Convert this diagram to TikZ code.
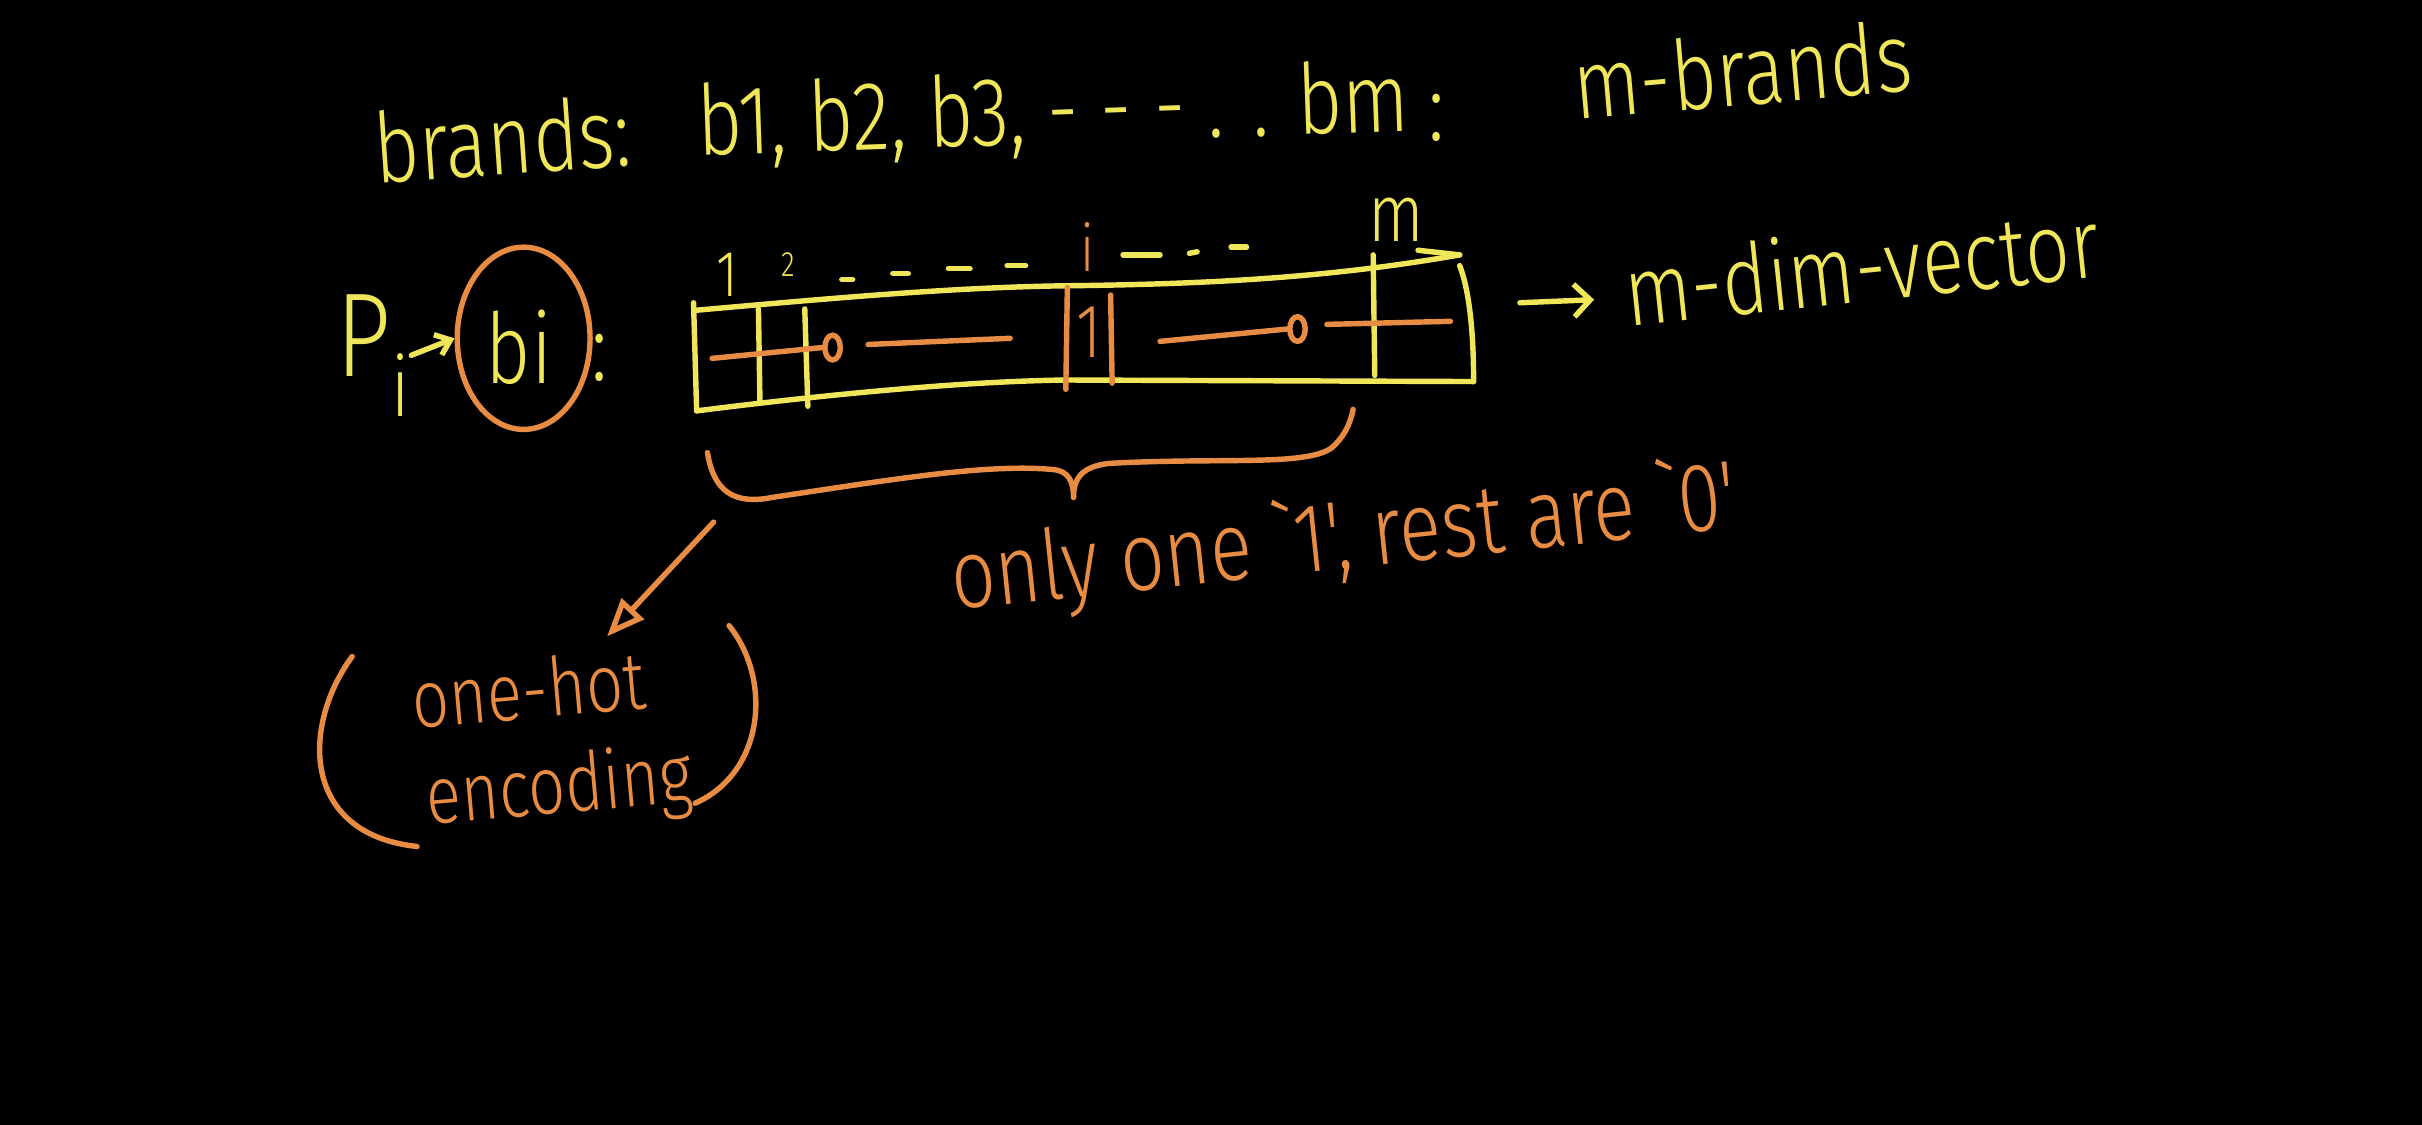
\documentclass[tikz,border=0pt]{standalone}
\usepackage{fontspec}
\newfontfamily\hand{Fira Sans Light}[FakeStretch=0.8]
\usetikzlibrary{arrows.meta,shapes.geometric}
\definecolor{hy}{RGB}{240,230,90}
\definecolor{ho}{RGB}{232,140,68}
\tikzset{
  ytxt/.style={text=hy, font=\hand\fontsize{36}{40}\selectfont, inner sep=0pt},
  otxt/.style={text=ho, font=\hand\fontsize{36}{40}\selectfont, inner sep=0pt},
  ypen/.style={draw=hy, line width=2pt, line cap=round, line join=round},
  open/.style={draw=ho, line width=2pt, line cap=round, line join=round},
  blob/.style={draw=ho, line width=2pt, ellipse, minimum width=0.2cm, minimum height=0.32cm, inner sep=0pt},
}
\begin{document}
\begin{tikzpicture}[x=0.02cm,y=-0.02cm]
\fill[black] (0,0) rectangle (1568,728);
\useasboundingbox (0,0) rectangle (1568,728);
% title
\node[ytxt, rotate=4] (brands) at (325,90) {brands:};
\node[ytxt, rotate=2] (list) at (682,74) {b1, b2, b3, - - - . . bm};
\node[ytxt] (colon) at (930,76) {:};
\node[ytxt, rotate=5] (mb) at (1128,45) {m-brands};
% P_i -> bi
\node[ytxt, font=\hand\fontsize{44}{48}\selectfont] (p) at (242,230) {P\textsubscript{i}};
\node[ytxt] (bi) at (336,225) {bi};
\node[draw=ho, line width=2pt, ellipse, minimum width=1.72cm, minimum height=2.36cm] (ring) at (339,219) {};
\draw[ypen, -{Straight Barb[length=5pt,width=8pt]}] (p.east) -- (ring.west);
\node[ytxt] (pc) at (388,232) {:};
% vector box
\draw[ypen] (449,201) .. controls (550,192) and (620,186) .. (690,185) .. controls (780,184) and (860,180) .. (945,165);
\draw[ypen] (918,162) -- (945,165);
\draw[ypen] (449,196) -- (451,266);
\draw[ypen] (451,266) .. controls (530,256) and (620,247) .. (690,246) -- (954,247);
\draw[ypen] (945,172) .. controls (952,190) and (954,220) .. (954,247);
\draw[ypen] (491,200) -- (492,260);
\draw[ypen] (521,200) -- (523,263);
\draw[ypen] (889,165) -- (890,243);
\draw[open] (691,186) -- (690,252);
\draw[open] (719,191) -- (720,248);
\node[otxt, font=\hand\fontsize{28}{30}\selectfont] (one) at (705,215) {1};
\node[blob] (o1) at (539,225) {};
\node[blob] (o2) at (840,213) {};
\draw[open] (461,232) -- (o1.west);
\draw[open] (562,223) -- (654,219);
\draw[open] (751,221) -- (o2.west);
\draw[open] (859,210) -- (939,208);
% index labels
\node[ytxt, font=\hand\fontsize{24}{26}\selectfont] (l1) at (471,178) {1};
\node[ytxt, font=\hand\fontsize{13}{15}\selectfont] (l2) at (510,171) {2};
\foreach \a/\b/\l in {545/181/7, 578/177/10, 614/174/14, 652/172/12}
  \draw[ypen] (\a,\b) -- ++(\l,0);
\node[otxt, font=\hand\fontsize{24}{26}\selectfont] (li) at (704,160) {i};
\draw[ypen] (727,165) -- (751,165);
\draw[ypen] (770,164) -- (775,163);
\draw[ypen] (797,160) -- (807,160);
\node[ytxt, font=\hand\fontsize{30}{32}\selectfont] (lm) at (904,142) {m};
% m-dim vector
\node[ytxt, rotate=6] (vec) at (1205,172) {m-dim-vector};
\coordinate (va) at (984,196);
\coordinate (vb) at (1032,194);
\draw[ypen, -{Straight Barb[length=6pt,width=12pt]}] (va) -- (vb);
% brace
\draw[open] (458,293) .. controls (462,318) and (475,327) .. (500,322) .. controls (580,310) and (640,300) .. (682,304) .. controls (692,305) and (695,312) .. (695,322);
\draw[open] (695,322) .. controls (695,310) and (700,302) .. (718,300) .. controls (790,296) and (845,302) .. (862,290) .. controls (870,283) and (874,275) .. (876,265);
\node[otxt, rotate=6] (only) at (870,350) {only one `1', rest are `0'};
% one-hot
\coordinate (bs) at (462,338);
\coordinate (ah) at (393,412);
\draw[open, -{Triangle[open, length=14pt, width=11pt]}] (bs) -- (ah);
\node[otxt, rotate=5, font=\hand\fontsize{30}{32}\selectfont] (oh1) at (342,446) {one-hot};
\node[otxt, rotate=5, font=\hand\fontsize{30}{32}\selectfont] (oh2) at (362,512) {encoding};
\draw[open] (228,425) .. controls (195,470) and (195,540) .. (270,548);
\draw[open] (472,405) .. controls (500,440) and (495,500) .. (450,520);
\end{tikzpicture}
\end{document}
